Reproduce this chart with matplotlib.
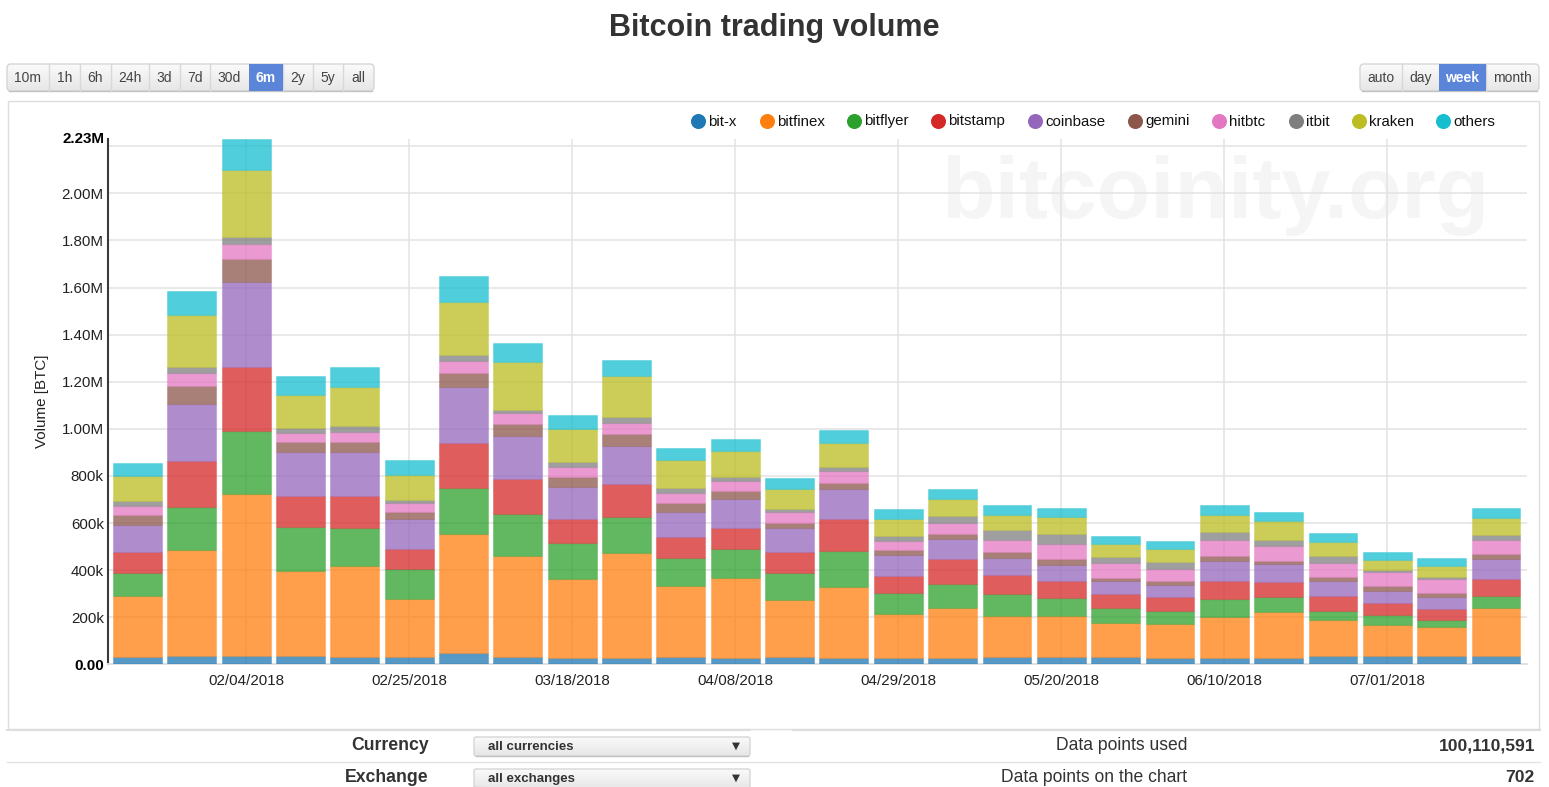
"""
Bitcoin trading volume, weekly bars stacked by exchange.
"""
import matplotlib
matplotlib.use("Agg")
import matplotlib.pyplot as plt
import numpy as np
from matplotlib.colors import to_rgba
from matplotlib.patches import FancyBboxPatch, Rectangle

plt.rcParams["font.family"] = ["Liberation Sans", "DejaVu Sans"]

WIDTH, HEIGHT = 1549, 787

WEEKS = [
    "01/21/2018", "01/28/2018", "02/04/2018", "02/11/2018", "02/18/2018", "02/25/2018",
    "03/04/2018", "03/11/2018", "03/18/2018", "03/25/2018", "04/01/2018", "04/08/2018",
    "04/15/2018", "04/22/2018", "04/29/2018", "05/06/2018", "05/13/2018", "05/20/2018",
    "05/27/2018", "06/03/2018", "06/10/2018", "06/17/2018", "06/24/2018", "07/01/2018",
    "07/08/2018", "07/15/2018",
]
EXCHANGES = ["bit-x", "bitfinex", "bitflyer", "bitstamp", "coinbase",
             "gemini", "hitbtc", "itbit", "kraken", "others"]
COLORS = ["#1f77b4", "#ff7f0e", "#2ca02c", "#d62728", "#9467bd",
          "#8c564b", "#e377c2", "#7f7f7f", "#bcbd22", "#17becf"]

# Объёмы в тысячах BTC
bitx = [31, 34, 37, 34, 31, 33, 50, 33, 28, 28, 30, 28, 30, 28, 28, 28, 31, 30, 30, 28, 27, 28, 36, 36, 34, 37]
bitfinex = [259, 450, 688, 362, 386, 245, 504, 427, 334, 446, 301, 338, 242, 300, 186, 210, 174, 175, 146, 143, 175, 193, 152, 133, 126, 201]
bitflyer = [96, 185, 266, 187, 164, 126, 194, 177, 152, 152, 120, 123, 115, 152, 89, 104, 95, 79, 65, 55, 76, 66, 39, 41, 30, 52]
bitstamp = [92, 194, 273, 133, 133, 87, 194, 149, 104, 141, 90, 92, 92, 138, 73, 104, 78, 70, 57, 61, 78, 64, 65, 52, 47, 71]
coinbase = [115, 242, 358, 184, 186, 127, 235, 183, 135, 160, 108, 123, 101, 126, 88, 85, 72, 70, 55, 51, 81, 74, 61, 48, 48, 86]
gemini = [42, 78, 100, 44, 44, 28, 62, 52, 41, 52, 37, 31, 22, 25, 20, 21, 28, 22, 15, 16, 25, 15, 17, 24, 17, 20]
hitbtc = [38, 53, 61, 38, 41, 38, 51, 45, 45, 44, 41, 45, 47, 52, 38, 47, 50, 67, 61, 51, 64, 62, 61, 58, 61, 62]
itbit = [21, 28, 32, 20, 25, 13, 23, 15, 21, 27, 22, 14, 11, 16, 24, 32, 41, 41, 27, 30, 34, 27, 31, 10, 8, 21]
kraken = [104, 218, 282, 141, 168, 107, 225, 204, 139, 174, 118, 110, 84, 103, 70, 71, 65, 71, 56, 54, 73, 79, 59, 41, 47, 70]
others = [56, 102, 132, 82, 84, 64, 109, 79, 59, 67, 51, 54, 48, 55, 45, 42, 42, 38, 34, 34, 44, 39, 37, 35, 33, 45]
SERIES = [bitx, bitfinex, bitflyer, bitstamp, coinbase, gemini, hitbtc, itbit, kraken, others]

Y_TICKS = [0, 200, 400, 600, 800, 1000, 1200, 1400, 1600, 1800, 2000, 2200]
Y_LABELS = ["0.00", "200k", "400k", "600k", "800k", "1.00M", "1.20M", "1.40M",
            "1.60M", "1.80M", "2.00M", ""]
Y_MAX = 2230

RANGE_BUTTONS = ["10m", "1h", "6h", "24h", "3d", "7d", "30d", "6m", "2y", "5y", "all"]
RANGE_EDGES = [7, 49, 80, 111, 149, 180, 210, 249, 283, 313, 343, 374]
STEP_BUTTONS = ["auto", "day", "week", "month"]
STEP_EDGES = [1360, 1402, 1439, 1486, 1539]
LEGEND_X = [698, 767, 854, 938, 1035, 1135, 1219, 1296, 1359, 1443]

TEXT = "#333333"
GRID = "#e3e3e3"
BLUE = "#5b85d9"
TICK_SIZE = 10.9

fig = plt.figure(figsize=(WIDTH / 100, HEIGHT / 100), dpi=100, facecolor="white")

# Слой в пикселях для всего, что вокруг графика
page = fig.add_axes([0, 0, 1, 1], zorder=0)
page.set_xlim(0, WIDTH)
page.set_ylim(HEIGHT, 0)
page.axis("off")


def gradient_box(x0, x1, y0, y1, radius=4):
    box = FancyBboxPatch((x0 + radius, y0 + radius), x1 - x0 - 2 * radius, y1 - y0 - 2 * radius,
                         boxstyle=f"round,pad={radius},rounding_size={radius}",
                         facecolor="none", edgecolor="#d6d6d6", linewidth=1, zorder=3)
    page.add_patch(box)
    shade = np.linspace(0.98, 0.90, 32).reshape(-1, 1)
    img = page.imshow(shade, cmap="gray", vmin=0, vmax=1, extent=(x0, x1, y1, y0),
                      aspect="auto", zorder=2)
    img.set_clip_path(box)
    page.plot([x0 + 2, x1 - 2], [y1 - 0.5, y1 - 0.5], color="#c2c2c2", lw=1, zorder=4)


def button_group(labels, edges, active):
    gradient_box(edges[0], edges[-1], 64, 91)
    for i, label in enumerate(labels):
        x0, x1 = edges[i], edges[i + 1]
        if label == active:
            page.add_patch(Rectangle((x0, 64), x1 - x0, 27, facecolor=BLUE, edgecolor="none", zorder=5))
        elif i > 0:
            page.plot([x0, x0], [64, 91], color="#d8d8d8", lw=1, zorder=4)
        page.text((x0 + x1) / 2, 78, label, ha="center", va="center", fontsize=10,
                  color="white" if label == active else "#444444",
                  fontweight="bold" if label == active else "normal", zorder=6)


def select_box(y0, y1, label):
    gradient_box(474, 750, y0, y1, radius=2)
    page.text(488, y0 + 10, label, ha="left", va="center", fontsize=9.5, fontweight="bold",
              color="#333333", zorder=6)
    page.text(736, y0 + 9, "▼", ha="center", va="center", fontsize=7.5, color="#333333",
              family=["DejaVu Sans"], zorder=6)


page.text(774, 28, "Bitcoin trading volume", ha="center", va="center", fontsize=22,
          fontweight="bold", color=TEXT)
button_group(RANGE_BUTTONS, RANGE_EDGES, "6m")
button_group(STEP_BUTTONS, STEP_EDGES, "week")

# Рамка графика и водяной знак
page.add_patch(Rectangle((8, 101), 1531, 628, facecolor="white", edgecolor="#dddddd", linewidth=1, zorder=1))
page.text(1215, 195, "bitcoinity.org", ha="center", va="center", fontsize=63, fontweight="bold",
          color="#f5f5f5", zorder=2)

for x, name, color in zip(LEGEND_X, EXCHANGES, COLORS):
    page.scatter([x], [121], s=117, color=color, linewidths=0, zorder=5)
    page.text(x + 10.5, 121.5, name, ha="left", va="center", fontsize=10.8, color="#111111", zorder=5)

# Нижние таблицы
page.plot([7, 750], [729.5, 729.5], color="#dddddd", lw=1.5, zorder=3)
page.plot([793, 1540], [729.5, 729.5], color="#dddddd", lw=1.5, zorder=3)
page.plot([7, 793], [761.5, 761.5], color="#e2e2e2", lw=1, zorder=1)
page.plot([793, 1540], [761.5, 761.5], color="#e2e2e2", lw=1, zorder=1)
page.text(429, 746, "Currency", ha="right", va="center", fontsize=12.7, fontweight="bold", color=TEXT)
page.text(429, 778, "Exchange", ha="right", va="center", fontsize=12.7, fontweight="bold", color=TEXT)
select_box(737, 756, "all currencies")
select_box(769, 789, "all exchanges")
page.text(1187, 746, "Data points used", ha="right", va="center", fontsize=12.65, color=TEXT)
page.text(1187, 778, "Data points on the chart", ha="right", va="center", fontsize=12.65, color=TEXT)
page.text(1535, 746, "100,110,591", ha="right", va="center", fontsize=12.6, fontweight="bold", color=TEXT)
page.text(1535, 778, "702", ha="right", va="center", fontsize=12.6, fontweight="bold", color=TEXT)

page.set_xlim(0, WIDTH)
page.set_ylim(HEIGHT, 0)

# Сам график
left, right, top, bottom = 108, 1527, 139.1, 664.4
ax = fig.add_axes([left / WIDTH, 1 - bottom / HEIGHT, (right - left) / WIDTH, (bottom - top) / HEIGHT], zorder=1)
ax.patch.set_alpha(0)

positions = np.arange(len(WEEKS))
base = np.zeros(len(WEEKS))
for values, color in zip(SERIES, COLORS):
    ax.bar(positions, values, width=0.9, bottom=base, facecolor=to_rgba(color, 0.75),
           edgecolor=to_rgba(color, 0.3), linewidth=0.8, zorder=3)
    base += np.array(values)

ax.set_xlim(-0.543, 25.57)
ax.set_ylim(0, Y_MAX)
ax.set_xticks(positions[2::3])
ax.set_xticklabels(WEEKS[2::3])
ax.set_yticks(Y_TICKS)
ax.set_yticklabels(Y_LABELS)
ax.grid(True, color=GRID, linewidth=1.1, zorder=0)
ax.set_axisbelow(True)
ax.tick_params(axis="both", length=0, labelsize=TICK_SIZE, labelcolor="#222222")
ax.tick_params(axis="x", pad=7)
ax.tick_params(axis="y", pad=3)
ax.get_yticklabels()[0].set_fontweight("bold")
ax.get_yticklabels()[0].set_color("black")
ax.text(-0.61, Y_MAX, "2.23M", ha="right", va="center", fontsize=TICK_SIZE, fontweight="bold", color="black")
ax.set_ylabel("Volume [BTC]", fontsize=TICK_SIZE, color="#222222", labelpad=9)

for side in ["top", "right"]:
    ax.spines[side].set_visible(False)
ax.spines["left"].set_color("#3a3a3a")
ax.spines["left"].set_linewidth(1.5)
ax.spines["bottom"].set_color("#e0e0e0")
ax.spines["bottom"].set_linewidth(1.4)

fig.savefig("out.png", dpi=100)
